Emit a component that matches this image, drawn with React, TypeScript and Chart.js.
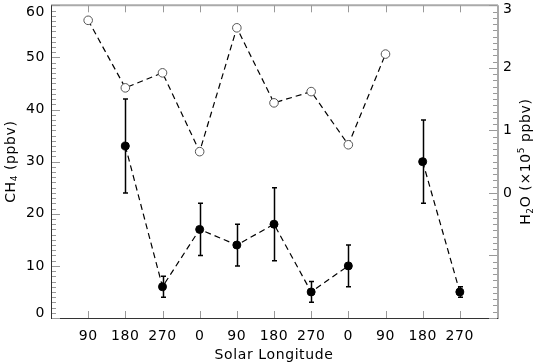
import React, { useEffect, useRef } from 'react';
import { Chart, registerables } from 'chart.js';

Chart.register(...registerables);

const FONT = '"DejaVu Sans", sans-serif';

// Solar longitude (cumulative degrees across Mars years) and the printed tick labels
const solarLongitudeCumulative = [90, 180, 270, 360, 450, 540, 630, 720, 810, 900, 990];
const solarLongitudeLabels = ['90', '180', '270', '0', '90', '180', '270', '0', '90', '180', '270'];

// H2O (x10^5 ppbv), right axis, open circles
const h2oValues: (number | null)[] = [2.76, 1.68, 1.92, 0.66, 2.64, 1.44, 1.62, 0.77, 2.22, null, null];

// CH4 (ppbv), left axis, filled circles with error bars
const ch4Values: (number | null)[] = [null, 33, 6, 17, 14, 18, 5, 10, null, 30, 5];
const ch4Errors: (number | null)[] = [null, 9, 2, 5, 4, 7, 2, 4, null, 8, 1];

const ch4TickValues = [0, 10, 20, 30, 40, 50, 60];
const h2oTickValues = [0, 1, 2, 3];

type Part = { t: string; s: number; dy: number };

function setSpacing(ctx: CanvasRenderingContext2D, px: number) {
  (ctx as any).letterSpacing = `${px}px`;
}

function partsWidth(ctx: CanvasRenderingContext2D, parts: Part[]) {
  let w = 0;
  for (const p of parts) {
    ctx.font = `${p.s}px ${FONT}`;
    w += ctx.measureText(p.t).width;
  }
  return w;
}

function drawParts(ctx: CanvasRenderingContext2D, parts: Part[], cx: number, baseY: number) {
  const w = partsWidth(ctx, parts);
  let x = cx - w / 2;
  ctx.textAlign = 'left';
  ctx.textBaseline = 'alphabetic';
  for (const p of parts) {
    ctx.font = `${p.s}px ${FONT}`;
    ctx.fillText(p.t, x, baseY + p.dy);
    x += ctx.measureText(p.t).width;
  }
}

const idlAxesPlugin = {
  id: 'idlAxes',
  beforeDatasetsDraw(chart: any) {
    const ctx: CanvasRenderingContext2D = chart.ctx;
    const xs = chart.scales.x;
    const ys = chart.scales.y;
    ctx.save();
    ctx.strokeStyle = '#000';
    ctx.lineWidth = 1.5;
    for (let i = 0; i < ch4Values.length; i++) {
      const v = ch4Values[i];
      const e = ch4Errors[i];
      if (v == null || e == null) continue;
      const px = Math.round(xs.getPixelForValue(solarLongitudeCumulative[i])) + 0.5;
      const yt = ys.getPixelForValue(v + e);
      const yb = ys.getPixelForValue(v - e);
      ctx.beginPath();
      ctx.moveTo(px, yt);
      ctx.lineTo(px, yb);
      ctx.moveTo(px - 2.5, yt);
      ctx.lineTo(px + 2.5, yt);
      ctx.moveTo(px - 2.5, yb);
      ctx.lineTo(px + 2.5, yb);
      ctx.stroke();
    }
    ctx.restore();
  },
  afterDraw(chart: any) {
    const ctx: CanvasRenderingContext2D = chart.ctx;
    const { left, right, top, bottom } = chart.chartArea;
    const xs = chart.scales.x;
    const ys = chart.scales.y;
    const y2 = chart.scales.y2;
    ctx.save();

    // frame
    ctx.lineWidth = 2;
    ctx.strokeStyle = '#aaa';
    ctx.beginPath();
    ctx.moveTo(left, top);
    ctx.lineTo(right + 1, top);
    ctx.moveTo(right + 1, top);
    ctx.lineTo(right + 1, bottom + 1);
    ctx.stroke();
    ctx.lineWidth = 1;
    ctx.strokeStyle = '#333';
    ctx.beginPath();
    ctx.moveTo(left + 0.5, top);
    ctx.lineTo(left + 0.5, bottom + 1);
    ctx.moveTo(left, bottom + 0.5);
    ctx.lineTo(right + 1, bottom + 0.5);
    ctx.stroke();

    // x ticks (bottom and top)
    ctx.strokeStyle = '#999';
    ctx.beginPath();
    for (const t of xs.ticks) {
      if (!solarLongitudeCumulative.includes(t.value)) continue;
      const px = Math.round(xs.getPixelForValue(t.value)) + 0.5;
      ctx.moveTo(px, bottom);
      ctx.lineTo(px, bottom - 7);
      ctx.moveTo(px, top);
      ctx.lineTo(px, top + 7);
    }
    // left ticks
    const lStep = 10;
    for (let i = 0; i <= Math.round((ys.max - ys.min) / lStep * 10); i++) {
      const v = ys.min + i * lStep / 10;
      const py = Math.round(ys.getPixelForValue(v)) + 0.5;
      const major = i % 10 === 0;
      ctx.moveTo(left + 1, py);
      ctx.lineTo(left + 1 + (major ? 8 : 4), py);
    }
    // right ticks
    const rStep = 1;
    for (let i = 0; i <= Math.round((y2.max - y2.min) / rStep * 10); i++) {
      const v = y2.min + i * rStep / 10;
      const py = Math.round(y2.getPixelForValue(v)) + 0.5;
      const major = i % 10 === 0;
      ctx.moveTo(right, py);
      ctx.lineTo(right - (major ? 8 : 4), py);
    }
    ctx.stroke();

    // tick labels
    setSpacing(ctx, 0.6);
    ctx.fillStyle = '#000';
    ctx.font = `14px ${FONT}`;
    ctx.textBaseline = 'middle';
    ctx.textAlign = 'right';
    for (const v of ch4TickValues) {
      let py = ys.getPixelForValue(v);
      py = Math.min(Math.max(py, top + 7), bottom - 5);
      ctx.fillText(String(v), left - 6, py);
    }
    ctx.textAlign = 'left';
    for (const v of h2oTickValues) {
      let py = y2.getPixelForValue(v);
      py = Math.min(Math.max(py, top + 4), bottom - 5);
      ctx.fillText(String(v), right + 6, py);
    }
    ctx.textAlign = 'center';
    ctx.textBaseline = 'alphabetic';
    for (let i = 0; i < solarLongitudeCumulative.length; i++) {
      const px = xs.getPixelForValue(solarLongitudeCumulative[i]);
      ctx.fillText(solarLongitudeLabels[i], px, bottom + 22);
    }

    // titles
    drawParts(ctx, [{ t: 'Solar Longitude', s: 14, dy: 0 }], (left + right) / 2, bottom + 41);

    const midY = (top + bottom) / 2;
    ctx.save();
    ctx.translate(14.5, midY);
    ctx.rotate(-Math.PI / 2);
    drawParts(ctx, [
      { t: 'CH', s: 14, dy: 0 },
      { t: '4', s: 9, dy: 2.5 },
      { t: ' (ppbv)', s: 14, dy: 0 },
    ], 0, 0);
    ctx.restore();

    ctx.save();
    ctx.translate(530, midY);
    ctx.rotate(-Math.PI / 2);
    drawParts(ctx, [
      { t: 'H', s: 14, dy: 0 },
      { t: '2', s: 9, dy: 2.5 },
      { t: 'O (×10', s: 14, dy: 0 },
      { t: '5', s: 9, dy: -6 },
      { t: ' ppbv)', s: 14, dy: 0 },
    ], 0, 0);
    ctx.restore();

    ctx.restore();
  },
};

export default function App() {
  const ref = useRef<HTMLCanvasElement>(null);
  useEffect(() => {
    const canvas = ref.current;
    if (!canvas) return;
    const h2oPoints = solarLongitudeCumulative.map((x, i) => ({ x, y: h2oValues[i] }));
    const ch4Points = solarLongitudeCumulative.map((x, i) => ({ x, y: ch4Values[i] }));
    const chart = new Chart(canvas, {
      type: 'line',
      data: {
        datasets: [
          {
            label: 'H2O',
            data: h2oPoints as any,
            yAxisID: 'y2',
            borderColor: '#000',
            borderWidth: 1.2,
            borderDash: [6, 4],
            pointRadius: 4.3,
            pointBackgroundColor: '#fff',
            pointBorderColor: '#555',
            pointBorderWidth: 1,
            spanGaps: false,
            tension: 0,
          },
          {
            label: 'CH4',
            data: ch4Points as any,
            yAxisID: 'y',
            borderColor: '#000',
            borderWidth: 1.2,
            borderDash: [6, 4],
            pointRadius: 4,
            pointBackgroundColor: '#000',
            pointBorderColor: '#000',
            pointBorderWidth: 1,
            spanGaps: false,
            tension: 0,
          },
        ],
      },
      options: {
        animation: false,
        responsive: false,
        layout: { padding: { top: 1, left: 0, right: 0, bottom: 0 } },
        plugins: { legend: { display: false }, tooltip: { enabled: false } },
        scales: {
          x: {
            type: 'linear',
            position: 'bottom',
            min: 0,
            max: 1080,
            ticks: { display: false, stepSize: 90 },
            grid: { display: false },
            border: { display: false },
            afterFit: (s: any) => { s.height = 45; },
          },
          y: {
            type: 'linear',
            position: 'left',
            min: 0,
            max: 60,
            ticks: { display: false, stepSize: 10 },
            grid: { display: false },
            border: { display: false },
            afterFit: (s: any) => { s.width = 51; },
          },
          y2: {
            type: 'linear',
            position: 'right',
            min: -2,
            max: 3,
            ticks: { display: false, stepSize: 1 },
            grid: { display: false },
            border: { display: false },
            afterFit: (s: any) => { s.width = 36; },
          },
        },
      } as any,
      plugins: [idlAxesPlugin],
    });
    return () => chart.destroy();
  }, []);
  return (
    <div style={{ position: 'fixed', left: 0, top: 0, width: 533, height: 363, background: '#fff' }}>
      <canvas ref={ref} width={533} height={363} />
    </div>
  );
}
